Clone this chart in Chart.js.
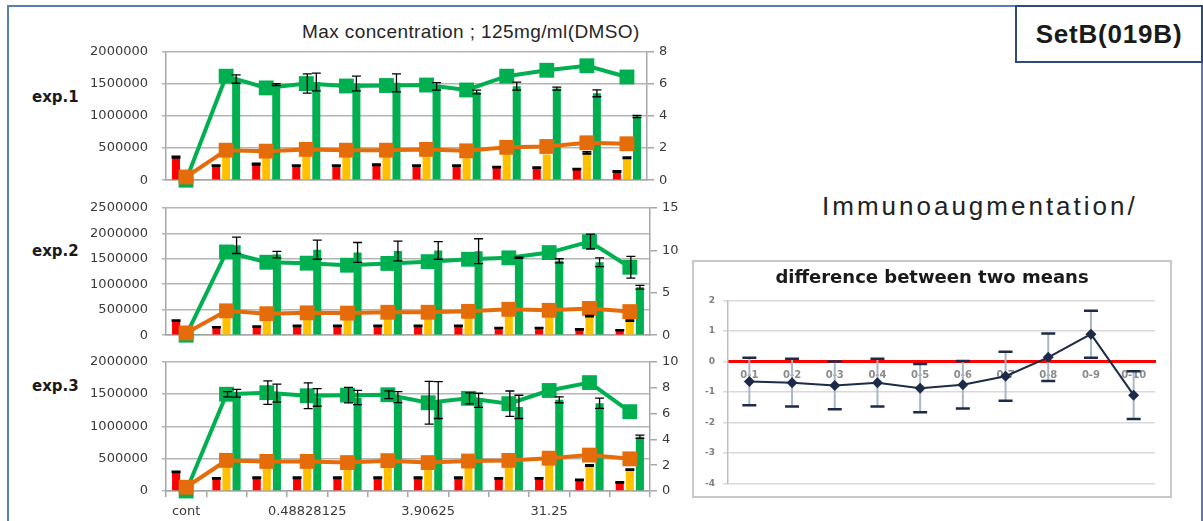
<!DOCTYPE html>
<html><head><meta charset="utf-8">
<script src="https://cdn.jsdelivr.net/npm/chart.js@4.4.1/dist/chart.umd.min.js"></script>
<style>
html,body{margin:0;padding:0;background:#fff;}
body{width:1203px;height:521px;position:relative;overflow:hidden;font-family:"Liberation Sans",Arial,sans-serif;}
.abs{position:absolute;}
#frame{left:7px;top:5px;width:1196px;height:600px;border:2px solid #5b7db1;box-sizing:border-box;}
#setb{left:1015px;top:5px;width:188px;height:58px;border:2px solid #2f4b7c;box-sizing:border-box;background:#fff;display:flex;align-items:center;justify-content:center;font:bold 26px "Liberation Sans",Arial,sans-serif;letter-spacing:0.8px;color:#1a1a1a;line-height:26px;}
#immuno{left:822px;top:191px;font:26px "Liberation Sans",Arial,sans-serif;letter-spacing:3px;line-height:30px;color:#222;white-space:nowrap;}
#maxtitle{left:302px;top:21px;font:19px "Liberation Sans",Arial,sans-serif;letter-spacing:0.4px;line-height:22px;color:#262626;white-space:nowrap;}
.exp{left:32px;font:bold 15px "DejaVu Sans",sans-serif;line-height:18px;color:#1a1a1a;}
#diffFrame{left:692px;top:260px;width:480px;height:238px;border:2px solid #c8c8c8;box-sizing:border-box;}
</style>
</head>
<body>
<div id="frame" class="abs"></div>
<div id="maxtitle" class="abs">Max concentration ; 125mg/ml(DMSO)</div>
<div class="abs exp" style="top:88px">exp.1</div>
<div class="abs exp" style="top:242px">exp.2</div>
<div class="abs exp" style="top:377px">exp.3</div>
<div class="abs" style="left:0;top:30px;width:700px;height:172px"><canvas id="p1"></canvas></div>
<div class="abs" style="left:0;top:186px;width:700px;height:171px"><canvas id="p2"></canvas></div>
<div class="abs" style="left:0;top:340px;width:700px;height:181px"><canvas id="p3"></canvas></div>
<div id="diffFrame" class="abs"></div>
<div class="abs" style="left:693px;top:261px;width:478px;height:236px"><canvas id="diff"></canvas></div>
<div id="immuno" class="abs">Immunoaugmentation/</div>
<div id="setb" class="abs">SetB(019B)</div>
<script>
// ---------- categories / tick labels ----------
const categories = ['cont','0.1220703125','0.244140625','0.48828125','0.9765625','1.953125','3.90625','7.8125','15.625','31.25','62.5','125'];
const xTickLabels = ['cont','','','0.48828125','','','3.90625','','','31.25','',''];

// ---------- exp.1 ----------
const red1 = [360000, 228000, 250000, 228000, 228000, 240000, 228000, 228000, 205000, 195000, 172000, 136000];
const errRed1 = [12000, 8000, 12000, 8000, 8000, 10000, 8000, 8000, 8000, 8000, 8000, 8000];
const yellow1 = [60000, 430000, 420000, 440000, 430000, 440000, 440000, 420000, 410000, 400000, 425000, 350000];
const errYellow1 = [0, 0, 0, 0, 0, 0, 0, 0, 0, 0, 15000, 8000];
const greenBar1 = [15000, 1575000, 1490000, 1530000, 1506000, 1517000, 1462000, 1374000, 1465000, 1427000, 1353000, 993000];
const errGreenBar1 = [0, 65000, 15000, 138000, 115000, 140000, 58000, 30000, 62000, 23000, 53000, 16000];
const greenLine1 = [0, 6.48, 5.75, 6.02, 5.87, 5.9, 5.93, 5.62, 6.48, 6.85, 7.13, 6.43];
const errGreenLine1 = [0, 0, 0, 0.6, 0, 0, 0, 0, 0, 0, 0, 0];
const orangeLine1 = [0.2, 1.87, 1.81, 1.92, 1.87, 1.87, 1.92, 1.83, 2.05, 2.1, 2.33, 2.27];

// ---------- exp.2 ----------
const red2 = [285000, 155000, 170000, 182000, 182000, 182000, 182000, 182000, 142000, 142000, 115000, 98000];
const errRed2 = [10000, 8000, 8000, 8000, 8000, 8000, 8000, 8000, 8000, 8000, 8000, 8000];
const yellow2 = [50000, 450000, 430000, 460000, 460000, 470000, 470000, 480000, 440000, 420000, 375000, 285000];
const errYellow2 = [0, 0, 0, 0, 0, 0, 0, 0, 0, 0, 8000, 10000];
const greenBar2 = [10000, 1763000, 1582000, 1677000, 1625000, 1654000, 1663000, 1648000, 1520000, 1460000, 1431000, 941000];
const errGreenBar2 = [0, 160000, 64000, 187000, 194000, 194000, 173000, 245000, 10000, 40000, 87000, 38000];
const greenLine2 = [0, 9.8, 8.59, 8.48, 8.24, 8.45, 8.66, 8.94, 9.11, 9.73, 11.02, 8.0];
const errGreenLine2 = [0, 0, 0, 0, 0, 0, 0, 0, 0, 0, 0.87, 1.28];
const orangeLine2 = [0.27, 2.87, 2.53, 2.63, 2.6, 2.7, 2.7, 2.81, 3.05, 2.93, 3.15, 2.78];

// ---------- exp.3 ----------
const red3 = [295000, 195000, 205000, 205000, 205000, 205000, 205000, 205000, 195000, 195000, 172000, 134000];
const errRed3 = [8000, 8000, 8000, 8000, 8000, 8000, 8000, 8000, 8000, 8000, 8000, 8000];
const yellow3 = [50000, 480000, 470000, 470000, 460000, 470000, 440000, 460000, 470000, 470000, 395000, 330000];
const errYellow3 = [0, 0, 0, 0, 0, 0, 0, 0, 0, 0, 8000, 8000];
const greenBar3 = [10000, 1513000, 1515000, 1449000, 1447000, 1452000, 1407000, 1403000, 1302000, 1412000, 1359000, 840000];
const errGreenBar3 = [0, 61000, 139000, 137000, 110000, 85000, 285000, 110000, 180000, 46000, 80000, 24000];
const greenLine3 = [0, 7.49, 7.61, 7.37, 7.42, 7.45, 6.83, 7.17, 6.76, 7.78, 8.39, 6.14];
const errGreenLine3 = [0, 0.2, 0.91, 1.0, 0.6, 0.3, 1.65, 0.43, 0.98, 0, 0, 0];
const orangeLine3 = [0.29, 2.37, 2.29, 2.29, 2.2, 2.35, 2.2, 2.32, 2.37, 2.54, 2.78, 2.49];

// ---------- difference between two means ----------
const diffLabels = ['0-1','0-2','0-3','0-4','0-5','0-6','0-7','0-8','0-9','0-10'];
const diffMeans = [-0.65, -0.69, -0.78, -0.69, -0.87, -0.76, -0.48, 0.14, 0.9, -1.1];
const diffErr = [0.78, 0.78, 0.78, 0.78, 0.79, 0.78, 0.8, 0.78, 0.77, 0.78];

// ---------- colours ----------
const C_RED = '#ff0000', C_YEL = '#ffc000', C_GRN = '#00b050', C_ORG = '#e46c0a';
const GRID = '#b5b5b5', AXIS = '#a6a6a6', TICK = '#3a3a3a';

function drawErrors(chart, behind) {
  const ctx = chart.ctx;
  chart.data.datasets.forEach((ds, i) => {
    if (!ds.errors || !!ds.errBehind !== behind) return;
    const meta = chart.getDatasetMeta(i);
    if (meta.hidden) return;
    const ys = chart.scales[meta.yAxisID];
    ctx.save();
    meta.data.forEach((el, j) => {
      const e = ds.errors[j];
      if (!e) return;
      const v = ds.data[j];
      const x = el.x + (ds.errOffset || 0);
      const yt = ys.getPixelForValue(v + e);
      const yb = ys.getPixelForValue(v - e);
      const cw = ds.capWidth || 8;
      ctx.strokeStyle = ds.errColor || '#000';
      ctx.lineWidth = ds.errWidth || 1.3;
      ctx.beginPath(); ctx.moveTo(x, yt); ctx.lineTo(x, yb); ctx.stroke();
      ctx.strokeStyle = ds.capColor || ds.errColor || '#000';
      ctx.lineWidth = ds.capLineWidth || ds.errWidth || 1.3;
      ctx.beginPath();
      ctx.moveTo(x - cw / 2, yt); ctx.lineTo(x + cw / 2, yt);
      ctx.moveTo(x - cw / 2, yb); ctx.lineTo(x + cw / 2, yb);
      ctx.stroke();
    });
    ctx.restore();
  });
}
const errorBarPlugin = {
  id: 'errorBars',
  beforeDatasetsDraw(chart) { drawErrors(chart, true); },
  afterDatasetsDraw(chart) { drawErrors(chart, false); }
};

function makePanel(id, p) {
  const tickFont = {family: 'DejaVu Sans', size: 13};
  const x = p.showX ? {
    ticks: {autoSkip: false, maxRotation: 0, minRotation: 0, font: tickFont, color: TICK, padding: 7,
            callback: (v, i) => xTickLabels[i]},
    grid: {drawOnChartArea: false, drawTicks: true, tickLength: 6, color: AXIS, lineWidth: 1.5, offset: true},
    border: {color: AXIS, width: 1.5},
    afterFit: s => { s.height = 30; }
  } : {
    ticks: {display: false},
    grid: {drawOnChartArea: false, drawTicks: false, color: AXIS},
    border: {color: AXIS, width: 1.5},
    afterFit: s => { s.height = 0; }
  };
  return new Chart(document.getElementById(id), {
    type: 'bar',
    data: {
      labels: categories,
      datasets: [
        {type: 'line', data: p.greenLine, yAxisID: 'y1', order: 1, borderColor: C_GRN, backgroundColor: C_GRN,
         borderWidth: 4, pointStyle: 'rect', pointRadius: 10.5, pointBorderWidth: 0, pointBackgroundColor: C_GRN,
         tension: 0, clip: false, errors: p.errGreenLine, capWidth: 9, errOffset: 1},
        {type: 'line', data: p.orangeLine, yAxisID: 'y1', order: 0, borderColor: C_ORG, backgroundColor: C_ORG,
         borderWidth: 4, pointStyle: 'rect', pointRadius: 10.5, pointBorderWidth: 0, pointBackgroundColor: C_ORG,
         tension: 0, clip: false},
        {data: p.red, yAxisID: 'y', order: 2, backgroundColor: C_RED, errors: p.errRed, capWidth: 9, errWidth: 1.8},
        {data: p.yellow, yAxisID: 'y', order: 2, backgroundColor: C_YEL, errors: p.errYellow, capWidth: 9, errWidth: 1.8},
        {data: p.greenBar, yAxisID: 'y', order: 2, backgroundColor: C_GRN, errors: p.errGreenBar, capWidth: 9}
      ]
    },
    options: {
      responsive: true, maintainAspectRatio: false, animation: false,
      layout: {padding: {left: 0, right: 0, top: p.padTop, bottom: p.padBottom}},
      datasets: {bar: {categoryPercentage: 0.75, barPercentage: 0.8, borderWidth: 0}},
      plugins: {legend: {display: false}, tooltip: {enabled: false}, title: {display: false}},
      scales: {
        x: x,
        y: {position: 'left', min: 0, max: p.yMax,
            ticks: {stepSize: 500000, font: tickFont, color: TICK, padding: 14, callback: v => String(v)},
            grid: {color: GRID, lineWidth: 1.5, tickLength: 4},
            border: {color: AXIS, width: 1.5},
            afterFit: s => { s.width = 166; }},
        y1: {position: 'right', min: 0, max: p.y1Max,
            ticks: {stepSize: p.y1Step, font: tickFont, color: TICK, padding: 5, callback: v => String(v)},
            grid: {drawOnChartArea: false, color: AXIS, lineWidth: 1.5, tickLength: 7},
            border: {color: AXIS, width: 1.5},
            afterFit: s => { s.width = p.rightW; }}
      }
    },
    plugins: [errorBarPlugin]
  });
}

makePanel('p1', {red: red1, errRed: errRed1, yellow: yellow1, errYellow: errYellow1, greenBar: greenBar1,
  errGreenBar: errGreenBar1, greenLine: greenLine1, errGreenLine: errGreenLine1, orangeLine: orangeLine1,
  yMax: 2000000, y1Max: 8, y1Step: 2, rightW: 53, padTop: 14, padBottom: 13, showX: false});
makePanel('p2', {red: red2, errRed: errRed2, yellow: yellow2, errYellow: errYellow2, greenBar: greenBar2,
  errGreenBar: errGreenBar2, greenLine: greenLine2, errGreenLine: errGreenLine2, orangeLine: orangeLine2,
  yMax: 2500000, y1Max: 15, y1Step: 5, rightW: 50, padTop: 14, padBottom: 13, showX: false});
makePanel('p3', {red: red3, errRed: errRed3, yellow: yellow3, errYellow: errYellow3, greenBar: greenBar3,
  errGreenBar: errGreenBar3, greenLine: greenLine3, errGreenLine: errGreenLine3, orangeLine: orangeLine3,
  yMax: 2000000, y1Max: 10, y1Step: 2, rightW: 50, padTop: 14, padBottom: 0, showX: true});

// ---------- right chart ----------
new Chart(document.getElementById('diff'), {
  type: 'line',
  data: {
    labels: diffLabels,
    datasets: [{
      data: diffMeans, borderColor: '#1c2b47', backgroundColor: '#1c2b47', borderWidth: 2,
      pointStyle: 'rectRot', pointRadius: 5.5, pointBackgroundColor: '#1c2b47', pointBorderWidth: 0,
      tension: 0, clip: false,
      errors: diffErr, errBehind: true, errColor: '#a9b6c7', errWidth: 2, capColor: '#1c2b47', capWidth: 14, capLineWidth: 2.5
    }]
  },
  options: {
    responsive: true, maintainAspectRatio: false, animation: false,
    layout: {padding: {left: 0, right: 0, top: 0, bottom: 11}},
    plugins: {
      legend: {display: false}, tooltip: {enabled: false},
      title: {display: true, text: 'difference between two means', color: '#1a1a1a',
              font: {family: 'DejaVu Sans', size: 18, weight: 'bold'}, padding: {top: 7, bottom: 11}}
    },
    scales: {
      x: {type: 'category', offset: true, position: {y: 0},
          ticks: {autoSkip: false, maxRotation: 0, font: {family: 'DejaVu Sans', size: 10, weight: 'bold'}, color: '#8c8c8c', padding: 8},
          grid: {drawOnChartArea: false, drawTicks: false},
          border: {color: '#ff0000', width: 3}},
      y: {min: -4, max: 2,
          ticks: {stepSize: 1, font: {family: 'DejaVu Sans', size: 9, weight: 'bold'}, color: '#7f7f7f', padding: 8},
          grid: {color: '#d9d9d9', lineWidth: 1.5, tickLength: 5},
          border: {color: '#bfbfbf', width: 1.5},
          afterFit: s => { s.width = 35; }},
      yR: {type: 'linear', position: 'right', display: true,
          ticks: {display: false}, grid: {display: false}, border: {display: false},
          afterFit: s => { s.width = 16; }}
    }
  },
  plugins: [errorBarPlugin]
});
</script>
</body></html>
